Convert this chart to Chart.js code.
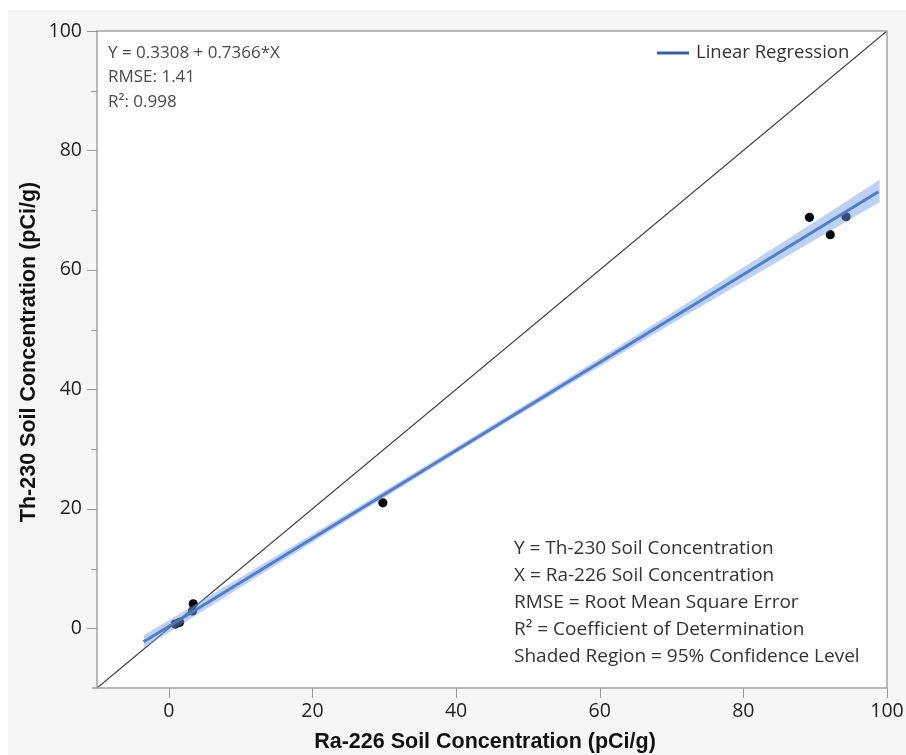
<!DOCTYPE html>
<html>
<head>
<meta charset="utf-8">
<script src="https://cdn.jsdelivr.net/npm/chart.js@4.4.1/dist/chart.umd.min.js"></script>
<style>
  html, body { margin: 0; padding: 0; background: #fff; }
  #wrap { width: 906px; height: 755px; }
</style>
</head>
<body>
<div id="wrap"><canvas id="myChart" width="906" height="755"></canvas></div>
<script>
// datos
const ptsX = [0.9, 1.5, 3.3, 3.4, 29.8, 89.2, 92.1, 94.3];
const ptsY = [0.7, 1.0, 2.9, 4.1, 21.0, 68.8, 65.9, 68.9];

// recta de regresión (extremos visibles)
const regX = [-3.5, 98.8];
const regY = [-2.25, 73.1];

// banda de confianza 95%
const bandX  = [-3.5, 10, 25, 40, 55, 70, 85, 99];
const bandLo = [-3.35, 6.85, 18.15, 29.3, 40.25, 51.0, 61.55, 71.35];
const bandHi = [-1.15, 8.55, 19.35, 30.3, 41.45, 52.8, 64.25, 75.15];

// línea 1:1
const idX = [-10, 100];
const idY = [-10, 100];

const xTicks = [0, 20, 40, 60, 80, 100];
const yTicks = [0, 20, 40, 60, 80, 100];
const yMinor = [10, 30, 50, 70, 90];

const xTitle = 'Ra-226 Soil Concentration (pCi/g)';
const yTitle = 'Th-230 Soil Concentration (pCi/g)';
const statsText = ['Y = 0.3308 + 0.7366*X', 'RMSE: 1.41', 'R²: 0.998'];
const notesText = [
    'Y = Th-230 Soil Concentration',
    'X = Ra-226 Soil Concentration',
    'RMSE = Root Mean Square Error',
    'R² = Coefficient of Determination',
    'Shaded Region = 95% Confidence Level'
];

const toXY = (xs, ys) => xs.map((x, i) => ({ x: x, y: ys[i] }));

const blue = '#2f5cbe';
const bandColor = 'rgba(115, 160, 235, 0.48)';
const txtFont = "'Open Sans', 'Noto Sans', sans-serif";
const titleFont = "bold 21.5px 'Liberation Sans', Arial, sans-serif";

// fondo, marco, marcas de ejes y textos
const decoPlugin = {
    id: 'deco',
    beforeDraw(chart) {
        const c = chart.ctx;
        const a = chart.chartArea;
        c.save();
        c.fillStyle = '#ffffff';
        c.fillRect(0, 0, chart.width, chart.height);
        c.fillStyle = '#f6f6f6';
        c.fillRect(8, 10, chart.width - 8, chart.height - 10);
        c.fillStyle = '#ffffff';
        c.fillRect(a.left, a.top, a.right - a.left, a.bottom - a.top);
        c.restore();
    },
    afterDraw(chart) {
        const c = chart.ctx;
        const a = chart.chartArea;
        const xs = chart.scales.x;
        const ys = chart.scales.y;
        c.save();
        // marco
        c.strokeStyle = '#a3a3a3';
        c.lineWidth = 1.5;
        c.strokeRect(a.left, a.top, a.right - a.left, a.bottom - a.top);
        c.beginPath();
        c.moveTo(a.left - 5, a.bottom);
        c.lineTo(a.left, a.bottom);
        c.stroke();

        // marcas
        c.lineWidth = 1;
        c.strokeStyle = '#999';
        c.beginPath();
        xTicks.forEach(v => {
            const px = Math.round(xs.getPixelForValue(v)) + 0.5;
            c.moveTo(px, a.bottom);
            c.lineTo(px, a.bottom + 10);
        });
        yTicks.forEach(v => {
            const py = Math.round(ys.getPixelForValue(v)) + 0.5;
            c.moveTo(a.left - 10, py);
            c.lineTo(a.left, py);
        });
        yMinor.forEach(v => {
            const py = Math.round(ys.getPixelForValue(v)) + 0.5;
            c.moveTo(a.left - 6, py);
            c.lineTo(a.left, py);
        });
        c.stroke();

        // títulos de ejes
        c.fillStyle = '#111';
        c.font = titleFont;
        c.textAlign = 'center';
        c.textBaseline = 'middle';
        c.fillText(xTitle, 485, 742);
        c.save();
        c.translate(29, 352);
        c.rotate(-Math.PI / 2);
        c.fillText(yTitle, 0, 0);
        c.restore();

        // estadísticos arriba a la izquierda
        c.textAlign = 'left';
        c.fillStyle = '#4a4a4a';
        c.font = '17px ' + txtFont;
        statsText.forEach((t, i) => c.fillText(t, 108, 53 + i * 24.5));

        // notas abajo a la derecha
        c.fillStyle = '#333';
        c.font = '19px ' + txtFont;
        notesText.forEach((t, i) => c.fillText(t, 514, 549 + i * 26.8));

        // leyenda
        c.strokeStyle = blue;
        c.lineWidth = 3;
        c.beginPath();
        c.moveTo(657, 53);
        c.lineTo(689, 53);
        c.stroke();
        c.fillStyle = '#333';
        c.font = '18.5px ' + txtFont;
        c.fillText('Linear Regression', 696, 53);
        c.restore();
    }
};

const ctx = document.getElementById('myChart').getContext('2d');

const myChart = new Chart(ctx, {
    type: 'scatter',
    data: {
        datasets: [
            {
                label: 'CI upper',
                data: toXY(bandX, bandHi),
                showLine: true,
                borderWidth: 0,
                borderColor: 'transparent',
                pointRadius: 0,
                cubicInterpolationMode: 'monotone',
                backgroundColor: bandColor,
                fill: '+1'
            },
            {
                label: 'CI lower',
                data: toXY(bandX, bandLo),
                showLine: true,
                borderWidth: 0,
                borderColor: 'transparent',
                pointRadius: 0,
                cubicInterpolationMode: 'monotone',
                fill: false
            },
            {
                label: '1:1',
                data: toXY(idX, idY),
                showLine: true,
                borderColor: '#3c3c3c',
                borderWidth: 1.2,
                pointRadius: 0,
                fill: false
            },
            {
                label: 'Linear Regression',
                data: toXY(regX, regY),
                showLine: true,
                borderColor: blue,
                borderWidth: 3,
                pointRadius: 0,
                fill: false
            },
            {
                label: 'Data',
                data: toXY(ptsX, ptsY),
                showLine: false,
                pointRadius: 4.6,
                pointBackgroundColor: '#000',
                pointBorderColor: '#000',
                pointBorderWidth: 0
            }
        ]
    },
    options: {
        responsive: false,
        animation: false,
        devicePixelRatio: 1,
        layout: { padding: { top: 31, right: 19, left: 0, bottom: 0 } },
        plugins: {
            legend: { display: false },
            tooltip: { enabled: false }
        },
        scales: {
            x: {
                type: 'linear',
                min: -10,
                max: 100,
                afterBuildTicks: s => { s.ticks = xTicks.map(v => ({ value: v })); },
                afterFit: s => { s.height = 67; s.paddingLeft = 0; s.paddingRight = 0; },
                grid: { display: false, drawTicks: false },
                border: { display: false },
                ticks: {
                    padding: 12,
                    color: '#1e1e1e',
                    font: { size: 19.5, family: txtFont },
                    maxRotation: 0
                }
            },
            y: {
                type: 'linear',
                min: -10,
                max: 100,
                afterBuildTicks: s => { s.ticks = yTicks.map(v => ({ value: v })); },
                afterFit: s => { s.width = 97; s.paddingTop = 0; s.paddingBottom = 0; },
                grid: { display: false, drawTicks: false },
                border: { display: false },
                ticks: {
                    padding: 15,
                    color: '#1e1e1e',
                    font: { size: 19.5, family: txtFont }
                }
            }
        }
    },
    plugins: [decoPlugin]
});
</script>
</body>
</html>
